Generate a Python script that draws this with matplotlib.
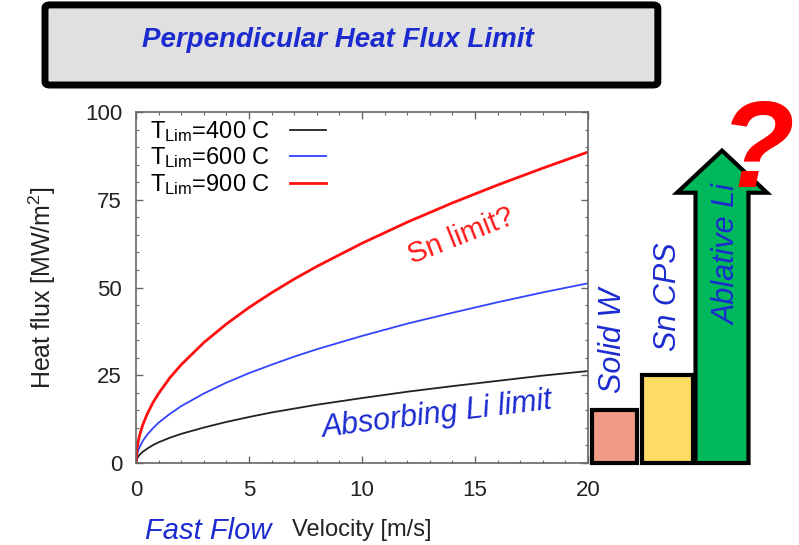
import matplotlib
matplotlib.use("Agg")
import matplotlib.pyplot as plt
from matplotlib.patches import FancyBboxPatch, FancyArrow
from matplotlib.ticker import MultipleLocator

# ================= DATA ================= #
velocity = [0, 0.05, 0.15, 0.3, 0.5, 0.75, 1, 1.5, 2, 3, 4, 5, 6, 7, 8, 10, 12, 14, 16, 18, 20]
flux_400 = [0, 1.3, 2.3, 3.2, 4.1, 5.1, 5.9, 7.2, 8.3, 10.1, 11.7, 13.1, 14.4, 15.5, 16.6,
            18.5, 20.3, 21.9, 23.4, 24.9, 26.2]
flux_600 = [0, 2.6, 4.4, 6.3, 8.1, 9.9, 11.5, 14.0, 16.2, 19.8, 22.9, 25.6, 28.0, 30.3, 32.4,
            36.2, 39.7, 42.8, 45.8, 48.6, 51.2]
flux_900 = [0, 4.4, 7.7, 10.9, 14.0, 17.2, 19.8, 24.3, 28.0, 34.3, 39.6, 44.3, 48.5, 52.4, 56.0,
            62.6, 68.6, 74.1, 79.2, 84.0, 88.6]
series_labels = ["T$_{\\mathrm{Lim}}$=400 C", "T$_{\\mathrm{Lim}}$=600 C", "T$_{\\mathrm{Lim}}$=900 C"]

concepts = ["Solid W", "Sn CPS"]
concept_flux = [15, 25]
ablative_label = "Ablative Li"
ablative_flux = 89
ablative_shoulder = 77

# ================= STYLE ================= #
plt.rcParams['font.family'] = ['Liberation Sans', 'DejaVu Sans']
plt.rcParams['mathtext.fontset'] = 'custom'
plt.rcParams['mathtext.rm'] = 'Liberation Sans'
plt.rcParams['mathtext.it'] = 'Liberation Sans:italic'

BLUE_TEXT = "#1c2bd0"
AXIS_GRAY = "#666666"
CURVE_COLORS = ["#222222", "#3344ff", "#ff1010"]
CURVE_WIDTHS = [1.3, 1.3, 2.0]

fig = plt.figure(figsize=(7.99, 5.45), dpi=100, facecolor="white")

# ---- title box ----
title_box = FancyBboxPatch((0.0563, 0.844), 0.767, 0.147, transform=fig.transFigure,
                           boxstyle="round,pad=0,rounding_size=0.006",
                           facecolor="#e0e0e0", edgecolor="black", linewidth=5)
fig.patches.append(title_box)
fig.text(0.423, 0.927, "Perpendicular Heat Flux Limit", ha='center', va='center',
         fontsize=20, fontweight='bold', fontstyle='italic', color=BLUE_TEXT)

# ---- main plot ----
ax = fig.add_axes([136/799, 1 - 463/545, 452/799, 351/545])
for ys, lab, col, lw in zip([flux_400, flux_600, flux_900], series_labels, CURVE_COLORS, CURVE_WIDTHS):
    ax.plot(velocity, ys, color=col, lw=lw, label=lab)

ax.set_xlim(0, 20)
ax.set_ylim(0, 100)
ax.xaxis.set_major_locator(MultipleLocator(5))
ax.xaxis.set_minor_locator(MultipleLocator(1))
ax.yaxis.set_major_locator(MultipleLocator(25))
ax.yaxis.set_minor_locator(MultipleLocator(5))
ax.tick_params(which='both', direction='in', top=True, right=True, color=AXIS_GRAY,
               labelsize=16, labelcolor="#222222")
ax.tick_params(which='major', length=5, width=1)
ax.tick_params(which='minor', length=2.5, width=0.8)
ax.tick_params(axis='x', pad=12)
ax.tick_params(axis='y', pad=10)
for sp in ax.spines.values():
    sp.set_color(AXIS_GRAY)
    sp.set_linewidth(1.2)

ax.set_xlabel("Velocity [m/s]", fontsize=17, color="#222222", va='top')
ax.xaxis.set_label_coords(0.5, -0.16)
ax.set_ylabel("Heat flux [MW/m$^2$]", fontsize=18, color="#222222")
ax.yaxis.set_label_coords(-0.173, 0.5)

leg = ax.legend(loc='upper left', bbox_to_anchor=(0.0, 1.02), frameon=False, markerfirst=False,
                fontsize=17, handlelength=1.5, handletextpad=0.85, labelspacing=0.06,
                borderaxespad=0.3, borderpad=0.3)

ax.text(14.4, 64.7, "Sn limit?", color="#ff1a1a", fontsize=21, rotation=21.5,
        rotation_mode='anchor', ha='center', va='center')
ax.text(13.3, 13.7, "Absorbing Li limit", color=BLUE_TEXT, fontsize=22, fontstyle='italic',
        rotation=7, rotation_mode='anchor', ha='center', va='center')

# ---- concept bars on the same flux scale ----
ax2 = fig.add_axes([588/799, 1 - 463/545, 211/799, 351/545])
ax2.set_xlim(0, 211)
ax2.set_ylim(0, 100)
ax2.axis('off')
bar_x = [26.5, 79.5]
bar_w = [45, 51]
bar_colors = ["#f19a86", "#ffdc64"]
for x, w, h, c in zip(bar_x, bar_w, concept_flux, bar_colors):
    ax2.bar(x, h, width=w, color=c, edgecolor="black", linewidth=3, clip_on=False)
arrow = FancyArrow(134, 0, 0, ablative_flux, width=53, head_width=90,
                   head_length=ablative_flux - ablative_shoulder, length_includes_head=True,
                   facecolor="#00b85c", edgecolor="black", linewidth=3, clip_on=False)
ax2.add_patch(arrow)

label_pos = [(25, 34.8), (80, 47.3)]
for (x, y), name in zip(label_pos, concepts):
    ax2.text(x, y, name, rotation=90, ha='center', va='center', fontsize=22,
             fontstyle='italic', color=BLUE_TEXT)
ax2.text(139, 59.3, ablative_label, rotation=90, ha='center', va='center', fontsize=22,
         fontstyle='italic', color=BLUE_TEXT)

fig.text(0.947, 0.715, "?", ha='center', va='center', fontsize=88, fontweight='bold',
         fontstyle='italic', color="#ff0000")

# ---- bottom annotation ----
fig.text(145/799, 1 - 517/545, "Fast Flow", ha='left', va='top', fontsize=21,
         fontstyle='italic', color=BLUE_TEXT)

fig.savefig("out.png", dpi=100)
